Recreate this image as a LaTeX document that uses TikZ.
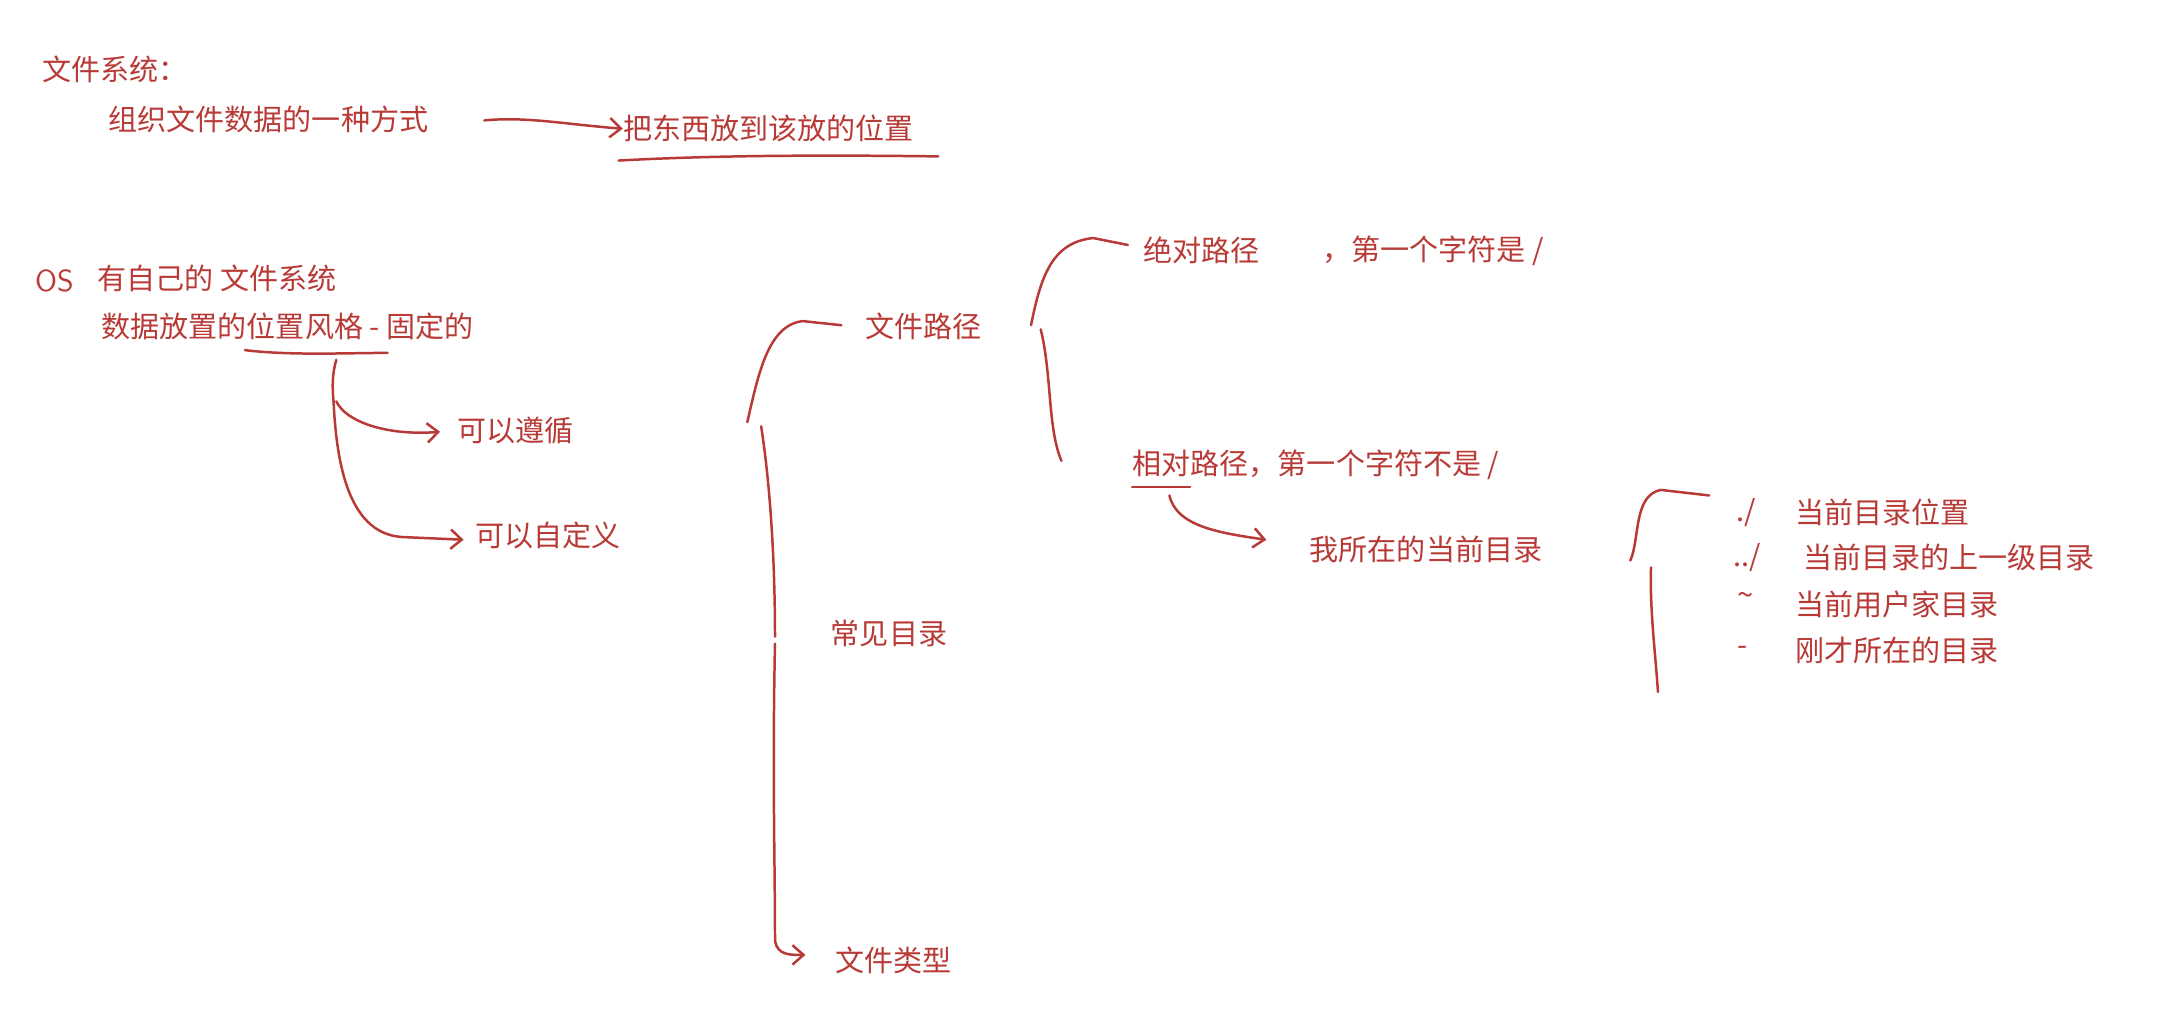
\documentclass[tikz,border=0pt]{standalone}
\usepackage{fontspec}
\newfontfamily\cjk{Noto Sans CJK SC}
\usetikzlibrary{arrows.meta}
\definecolor{ink}{HTML}{B83A36}
\begin{document}
\begin{tikzpicture}[x=0.5pt,y=-0.5pt,
  t/.style={anchor=west,inner sep=0,text=ink,font=\cjk\fontsize{10.5}{12}\selectfont},
  ln/.style={draw=ink,line width=0.9pt,line cap=round},
  ar/.style={ln,-{Straight Barb[length=4pt,width=7pt]}}]
\useasboundingbox (0,0) rectangle (1568,735);
\node[t] (a) at (30,50) {文件系统：};
\node[t] (b) at (78,86) {组织文件数据的一种方式};
\node[t] (c) at (450,93) {把东西放到该放的位置};
\coordinate (bs) at (350,87);
\draw[ar] (bs) .. controls (380,84) and (410,90) .. (c.west);
\draw[ln] (447,116) .. controls (520,112) and (600,112) .. (678,113);
\node[t,font=\fontsize{11}{12}\selectfont\sffamily] (os) at (25,203) {OS};
\node[t] (d) at (70,201) {有自己的\ 文件系统};
\node[t] (e) at (73,236) {数据放置的位置风格\ -\ 固定的};
\draw[ln] (177,253) .. controls (210,257) and (250,255) .. (280,255);
\node[t] (f) at (330,311) {可以遵循};
\node[t] (g) at (343,387) {可以自定义};
\coordinate (s1) at (243,260);
\draw[ln] (s1) .. controls (240,270) and (240,280) .. (241,290);
\draw[ar] (243,290) .. controls (250,305) and (280,315) .. (318,312);
\draw[ar] (241,290) .. controls (243,330) and (250,385) .. (290,388) -- (335,390);
\node[t] (h) at (625,236) {文件路径};
\node[t] (i) at (600,458) {常见目录};
\node[t] (j) at (603,694) {文件类型};
\draw[ln] (540,305) .. controls (548,270) and (555,235) .. (580,232) -- (608,235);
\draw[ln] (550,308) .. controls (558,360) and (560,420) .. (560,460);
\draw[ar] (560,465) .. controls (558,560) and (560,620) .. (560,680) .. controls (562,690) and (570,690) .. (582,690);
\node[t] (k) at (826,181) {绝对路径};
\node[t] (k2) at (955,181) {，第一个字符是\ /};
\node[t] (l) at (818,336) {相对路径，第一个字符不是\ /};
\draw[ln] (745,235) .. controls (752,200) and (760,175) .. (790,172) -- (815,177);
\draw[ln] (752,238) .. controls (760,270) and (757,310) .. (767,333);
\draw[ln] (818,352) -- (860,352);
\node[t] (m) at (946,397) {我所在的当前目录};
\draw[ar] (845,358) .. controls (850,380) and (880,385) .. (915,390);
\draw[ln] (1178,405) .. controls (1185,390) and (1180,358) .. (1200,354) -- (1235,358);
\draw[ln] (1193,410) .. controls (1192,440) and (1196,470) .. (1198,500);
\node[t] at (1254,370) {./};
\node[t] (n1) at (1297,370) {当前目录位置};
\node[t] at (1252,403) {../};
\node[t] (n2) at (1303,403) {当前目录的上一级目录};
\node[t] at (1255,433) {\textasciitilde};
\node[t] (n3) at (1297,437) {当前用户家目录};
\node[t] at (1255,470) {-};
\node[t] (n4) at (1297,470) {刚才所在的目录};
\end{tikzpicture}
\end{document}
